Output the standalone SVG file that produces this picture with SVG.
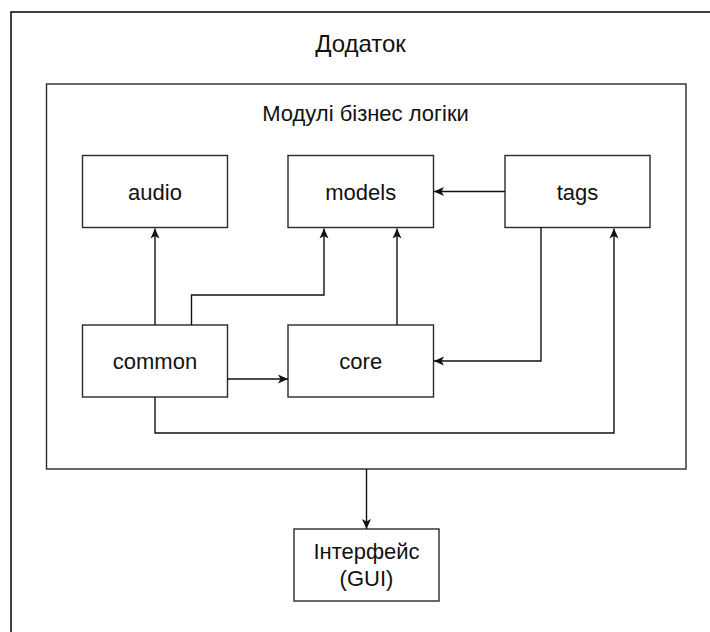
<svg xmlns="http://www.w3.org/2000/svg" width="710" height="632" viewBox="0 0 710 632">
<style>
.box{fill:#fff;stroke:#2a2a2a;stroke-width:1.4}
.frame{fill:#fff;stroke:#111;stroke-width:1.6}
.lbl{font-family:"Liberation Sans",Arial,sans-serif;font-size:22px;fill:#111;text-anchor:middle}
.big{font-size:24px}
.edge{fill:none;stroke:#111;stroke-width:1.4}
</style>
<defs>
<marker id="arr" markerUnits="userSpaceOnUse" markerWidth="12" markerHeight="12" viewBox="0 0 12 12" refX="11" refY="6" orient="auto">
<path d="M1,1.5 L11,6 L1,10.5 L3.5,6 z" fill="#111"/>
</marker>
</defs>
<rect width="710" height="632" fill="#fff"/>
<g id="app">
<rect class="frame" x="11" y="12" width="720" height="640"/>
<text class="lbl big" x="360.5" y="52">Додаток</text>
</g>
<g id="business">
<rect class="box" x="46.5" y="84" width="639.5" height="385"/>
<text class="lbl" x="365.5" y="121">Модулі бізнес логіки</text>
</g>
<g id="audio">
<rect class="box" x="82.5" y="155.5" width="145" height="72"/>
<text class="lbl" x="155" y="199.5">audio</text>
</g>
<g id="models">
<rect class="box" x="288" y="155.5" width="145.5" height="72"/>
<text class="lbl" x="360.75" y="199.5">models</text>
</g>
<g id="tags">
<rect class="box" x="505" y="155.5" width="145" height="72"/>
<text class="lbl" x="577.5" y="199.5">tags</text>
</g>
<g id="common">
<rect class="box" x="82.5" y="325" width="145" height="72"/>
<text class="lbl" x="155" y="369">common</text>
</g>
<g id="core">
<rect class="box" x="288" y="325" width="145.5" height="72"/>
<text class="lbl" x="360.75" y="369">core</text>
</g>
<g id="gui">
<rect class="box" x="294" y="529" width="145" height="72"/>
<text class="lbl" x="366.5" y="559">Інтерфейс</text>
<text class="lbl" x="366.5" y="586">(GUI)</text>
</g>
<g id="connectors">
<path class="edge" d="M155,325 V228.5" marker-end="url(#arr)"/>
<path class="edge" d="M191.5,325 V295 H324 V228.5" marker-end="url(#arr)"/>
<path class="edge" d="M397,325 V228.5" marker-end="url(#arr)"/>
<path class="edge" d="M505,191.5 H434" marker-end="url(#arr)"/>
<path class="edge" d="M541,227.5 V361 H434" marker-end="url(#arr)"/>
<path class="edge" d="M227.5,379 H288" marker-end="url(#arr)"/>
<path class="edge" d="M155,397 V433 H614 V228.5" marker-end="url(#arr)"/>
<path class="edge" d="M366.5,469 V529" marker-end="url(#arr)"/>
</g>
</svg>
